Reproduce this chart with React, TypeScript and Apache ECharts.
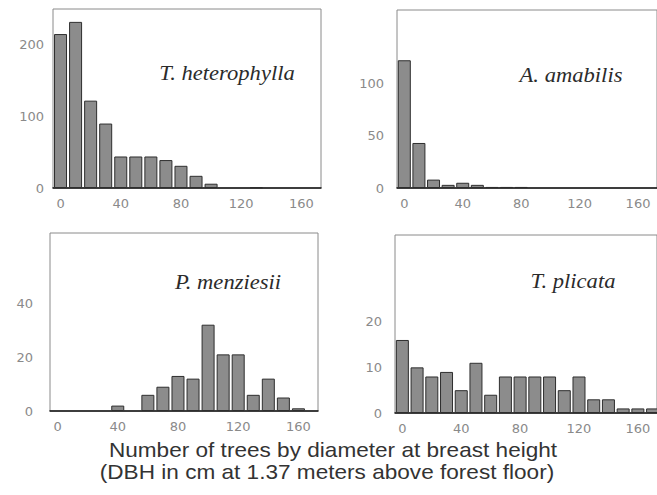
import React, { useEffect, useRef } from "react";
import * as echarts from "echarts";

// Diameter classes (cm), 10 cm bins starting at 0
const binStart = 0;
const binWidth = 10;

// Tree counts per 10 cm DBH class
const heterophylla = [215, 232, 122, 90, 44, 44, 44, 39, 31, 17, 6, 0, 0, 1];
const amabilis = [122, 43, 8, 3, 5, 3, 1, 1, 1];
const menziesii = [0, 0, 0, 0, 2, 0, 6, 9, 13, 12, 32, 21, 21, 6, 12, 5, 1];
const plicata = [16, 10, 8, 9, 5, 11, 4, 8, 8, 8, 8, 5, 8, 3, 3, 1, 1, 1];

const species = ["T. heterophylla", "A. amabilis", "P. menziesii", "T. plicata"];
const xTicks = [0, 40, 80, 120, 160];
const yTicks = [
  [0, 100, 200],
  [0, 50, 100],
  [0, 20, 40],
  [0, 10, 20],
];
const yMax = [250, 170, 66, 39];
const caption = [
  "Number of trees by diameter at breast height",
  "(DBH in cm at 1.37 meters above forest floor)",
];

const counts = [heterophylla, amabilis, menziesii, plicata];

const grids = [
  { left: 53, top: 9, width: 268, height: 179 },
  { left: 397, top: 10, width: 268, height: 178 },
  { left: 50, top: 233, width: 268, height: 178 },
  { left: 395, top: 235, width: 268, height: 178 },
];
const yLabelMargin = [9, 13, 17, 13];
const nameAnchors = [
  [227, 73],
  [571, 75],
  [228, 282],
  [573, 281],
];

const tickFont = {
  color: "#8a8a8a",
  fontFamily: "DejaVu Sans",
  fontSize: 13,
};

export default function App() {
  const ref = useRef<HTMLDivElement>(null);

  useEffect(() => {
    if (!ref.current) return;
    const chart = echarts.init(ref.current, undefined, { renderer: "svg" });

    const option: any = {
      animation: false,
      backgroundColor: "#ffffff",
      grid: grids.map((g) => ({
        ...g,
        show: true,
        borderColor: "#8a8a8a",
        borderWidth: 1,
        backgroundColor: "transparent",
        containLabel: false,
      })),
      xAxis: grids.map((_, i) => ({
        type: "value",
        gridIndex: i,
        min: -5,
        max: 173,
        axisLine: { show: true, onZero: false, lineStyle: { color: "#111", width: 1.5 } },
        axisTick: { show: false },
        splitLine: { show: false },
        axisLabel: {
          ...tickFont,
          margin: 9,
          customValues: xTicks,
        },
      })),
      yAxis: grids.map((_, i) => ({
        type: "value",
        gridIndex: i,
        min: 0,
        max: yMax[i],
        axisLine: { show: false },
        axisTick: { show: false },
        splitLine: { show: false },
        axisLabel: {
          ...tickFont,
          margin: yLabelMargin[i],
          customValues: yTicks[i],
        },
      })),
      series: counts.map((vals, i) => ({
        type: "bar",
        xAxisIndex: i,
        yAxisIndex: i,
        barWidth: 13,
        data: vals
          .map((v, k) => [binStart + k * binWidth, v])
          .filter((d) => d[1] > 0),
        itemStyle: {
          color: "#8c8c8c",
          borderColor: "#2e2e2e",
          borderWidth: 1,
        },
      })),
      graphic: [
        ...species.map((name, i) => ({
          type: "text",
          x: nameAnchors[i][0],
          y: nameAnchors[i][1],
          scaleX: 1.13,
          style: {
            text: name,
            fontFamily: "Liberation Serif",
            fontStyle: "italic",
            fontSize: 20,
            fill: "#2b2b2b",
            textAlign: "center",
            textVerticalAlign: "middle",
          },
        })),
        ...caption.map((line, i) => ({
          type: "text",
          x: i === 0 ? 333 : 327,
          y: i === 0 ? 450 : 472,
          scaleX: 1.13,
          style: {
            text: line,
            fontFamily: "Liberation Sans",
            fontSize: 20,
            fill: "#333333",
            textAlign: "center",
            textVerticalAlign: "middle",
          },
        })),
      ],
    };

    chart.setOption(option);
    return () => chart.dispose();
  }, []);

  return (
    <div
      ref={ref}
      style={{ position: "fixed", left: 0, top: 0, width: 657, height: 495 }}
    />
  );
}
